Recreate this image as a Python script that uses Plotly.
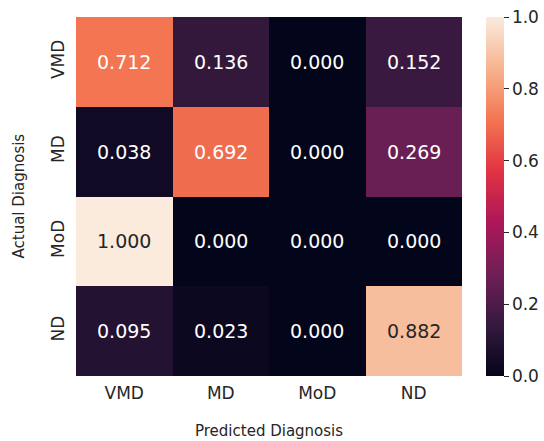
import plotly.graph_objects as go

pred_labels = ["VMD", "MD", "MoD", "ND"]
actual_labels = ["VMD", "MD", "MoD", "ND"]
values = [
    [0.712, 0.136, 0.000, 0.152],
    [0.038, 0.692, 0.000, 0.269],
    [1.000, 0.000, 0.000, 0.000],
    [0.095, 0.023, 0.000, 0.882],
]
cbar_ticks = [0.0, 0.2, 0.4, 0.6, 0.8, 1.0]

rocket = [
    [0.0, "#03051a"],
    [1 / 7, "#35193e"],
    [2 / 7, "#701f57"],
    [3 / 7, "#ad1759"],
    [4 / 7, "#e13342"],
    [5 / 7, "#f37651"],
    [6 / 7, "#f6b48f"],
    [1.0, "#faebdd"],
]

FONT = "DejaVu Sans"
TXT = "#262626"

fig = go.Figure(
    go.Heatmap(
        z=values,
        x=pred_labels,
        y=actual_labels,
        colorscale=rocket,
        zmin=0,
        zmax=1,
        colorbar=dict(
            x=1.062,
            xanchor="left",
            xpad=0,
            y=0.5,
            yanchor="middle",
            len=1,
            lenmode="fraction",
            ypad=0,
            thickness=18,
            outlinewidth=0,
            ticks="outside",
            ticklen=5,
            tickwidth=1,
            tickcolor=TXT,
            tickvals=cbar_ticks,
            ticktext=[f"{v:.1f}" for v in cbar_ticks],
            ticklabeloverflow="allow",
            tickfont=dict(family=FONT, size=17, color=TXT),
        ),
    )
)

for i, row in enumerate(values):
    for j, v in enumerate(row):
        fig.add_annotation(
            x=pred_labels[j],
            y=actual_labels[i],
            xref="x",
            yref="y",
            text=f"{v:.3f}",
            showarrow=False,
            font=dict(family=FONT, size=19, color=(TXT if v > 0.8 else "#ffffff")),
        )

fig.add_annotation(
    text="Predicted Diagnosis",
    xref="paper", yref="paper",
    x=0.5, y=0,
    yshift=-55,
    showarrow=False,
    xanchor="center", yanchor="middle",
    font=dict(family=FONT, size=15, color=TXT),
)
fig.add_annotation(
    text="Actual Diagnosis",
    xref="paper", yref="paper",
    x=0, y=0.5,
    xshift=-58,
    textangle=-90,
    showarrow=False,
    xanchor="center", yanchor="middle",
    font=dict(family=FONT, size=15, color=TXT),
)

fig.update_xaxes(
    showgrid=False, zeroline=False, showline=False,
    ticks="", ticklabelstandoff=5,
    tickfont=dict(family=FONT, size=17, color=TXT),
)
fig.update_yaxes(
    autorange="reversed",
    showgrid=False, zeroline=False, showline=False,
    ticks="", tickangle=-90, ticklabelstandoff=8,
    tickfont=dict(family=FONT, size=17, color=TXT),
)

fig.update_layout(
    width=544,
    height=441,
    margin=dict(l=76, r=82, t=17, b=65, autoexpand=False),
    paper_bgcolor="white",
    plot_bgcolor="white",
    font=dict(family=FONT, color=TXT),
)

fig.write_html(
    "out.html",
    config={"displayModeBar": False},
    post_script="document.body.style.margin='0';document.body.style.padding='0';document.body.style.overflow='hidden';",
)
